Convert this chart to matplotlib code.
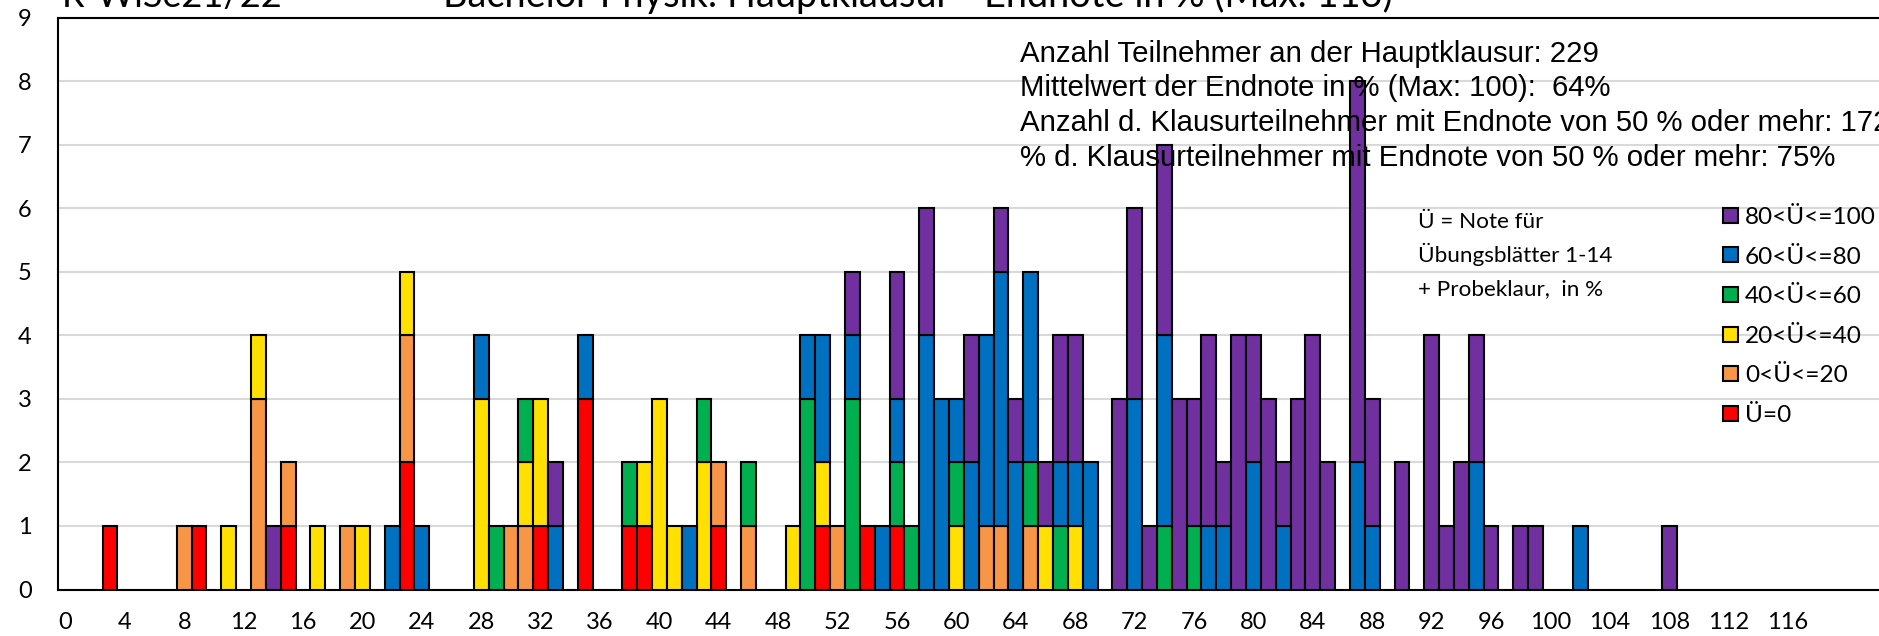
import matplotlib
matplotlib.use("Agg")
import matplotlib.pyplot as plt
import numpy as np

# Endnote in % (x-Kategorie) und Anzahl Teilnehmer je Übungsnote-Gruppe
punkte = [3, 8, 9, 11, 13, 14, 15, 17, 19, 20, 22, 23, 24, 28, 29, 30, 31, 32, 33, 35,
          38, 39, 40, 41, 42, 43, 44, 46, 49, 50, 51, 52, 53, 54, 55, 56, 57, 58, 59, 60,
          61, 62, 63, 64, 65, 66, 67, 68, 69, 71, 72, 73, 74, 75, 76, 77, 78, 79, 80, 81,
          82, 83, 84, 85, 87, 88, 90, 92, 93, 94, 95, 96, 98, 99, 102, 108]

ue_0 = [1, 0, 1, 0, 0, 0, 1, 0, 0, 0, 0, 2, 0, 0, 0, 0, 0, 1, 0, 3,
        1, 1, 0, 0, 0, 0, 1, 0, 0, 0, 1, 0, 0, 1, 0, 1, 0, 0, 0, 0,
        0, 0, 0, 0, 0, 0, 0, 0, 0, 0, 0, 0, 0, 0, 0, 0, 0, 0, 0, 0,
        0, 0, 0, 0, 0, 0, 0, 0, 0, 0, 0, 0, 0, 0, 0, 0]
ue_0_20 = [0, 1, 0, 0, 3, 0, 1, 0, 1, 0, 0, 2, 0, 0, 0, 1, 1, 0, 0, 0,
           0, 0, 0, 0, 0, 0, 1, 1, 0, 0, 0, 1, 0, 0, 0, 0, 0, 0, 0, 0,
           0, 1, 1, 0, 1, 0, 0, 0, 0, 0, 0, 0, 0, 0, 0, 0, 0, 0, 0, 0,
           0, 0, 0, 0, 0, 0, 0, 0, 0, 0, 0, 0, 0, 0, 0, 0]
ue_20_40 = [0, 0, 0, 1, 1, 0, 0, 1, 0, 1, 0, 1, 0, 3, 0, 0, 1, 2, 0, 0,
            0, 1, 3, 1, 0, 2, 0, 0, 1, 0, 1, 0, 0, 0, 0, 0, 0, 0, 0, 1,
            0, 0, 0, 0, 0, 1, 0, 1, 0, 0, 0, 0, 0, 0, 0, 0, 0, 0, 0, 0,
            0, 0, 0, 0, 0, 0, 0, 0, 0, 0, 0, 0, 0, 0, 0, 0]
ue_40_60 = [0, 0, 0, 0, 0, 0, 0, 0, 0, 0, 0, 0, 0, 0, 1, 0, 1, 0, 0, 0,
            1, 0, 0, 0, 0, 1, 0, 1, 0, 3, 0, 0, 3, 0, 0, 1, 1, 0, 0, 1,
            0, 0, 0, 0, 1, 0, 1, 0, 0, 0, 0, 0, 1, 0, 1, 0, 0, 0, 0, 0,
            0, 0, 0, 0, 0, 0, 0, 0, 0, 0, 0, 0, 0, 0, 0, 0]
ue_60_80 = [0, 0, 0, 0, 0, 0, 0, 0, 0, 0, 1, 0, 1, 1, 0, 0, 0, 0, 1, 1,
            0, 0, 0, 0, 1, 0, 0, 0, 0, 1, 2, 0, 1, 0, 1, 1, 0, 4, 3, 1,
            2, 3, 4, 2, 3, 0, 1, 1, 2, 0, 3, 0, 3, 0, 0, 1, 1, 0, 2, 0,
            1, 0, 0, 0, 2, 1, 0, 0, 0, 0, 2, 0, 0, 0, 1, 0]
ue_80_100 = [0, 0, 0, 0, 0, 1, 0, 0, 0, 0, 0, 0, 0, 0, 0, 0, 0, 0, 1, 0,
             0, 0, 0, 0, 0, 0, 0, 0, 0, 0, 0, 0, 1, 0, 0, 2, 0, 2, 0, 0,
             2, 0, 1, 1, 0, 1, 2, 2, 0, 3, 3, 1, 3, 3, 2, 3, 1, 4, 2, 3,
             1, 3, 4, 2, 6, 2, 2, 4, 1, 2, 2, 1, 1, 1, 0, 1]

gruppen = ["Ü=0", "0<Ü<=20", "20<Ü<=40", "40<Ü<=60", "60<Ü<=80", "80<Ü<=100"]
farben = ["#FF0000", "#F79646", "#FFE000", "#00B050", "#0070C0", "#7030A0"]

x_ticks = list(range(0, 117, 4))
y_ticks = list(range(0, 10))

titel_links = "R-WiSe21/22"
titel = "Bachelor Physik: Hauptklausur - Endnote in % (Max: 113)"
info = ["Anzahl Teilnehmer an der Hauptklausur: 229",
        "Mittelwert der Endnote in % (Max: 100):  64%",
        "Anzahl d. Klausurteilnehmer mit Endnote von 50 % oder mehr: 172",
        "% d. Klausurteilnehmer mit Endnote von 50 % oder mehr: 75%"]
notiz = ["Ü = Note für", "Übungsblätter 1-14", "+ Probeklaur,  in %"]

# ------------------------------------------------------------------
W, H = 1879, 636
fig = plt.figure(figsize=(W / 100, H / 100), dpi=100)
ax = fig.add_axes([58 / W, 1 - 589.5 / H, 125 * 14.85 / W, (589.5 - 17.7) / H])

x = np.array(punkte)
unten = np.zeros(len(punkte))
balken = []
for werte, farbe, name in zip([ue_0, ue_0_20, ue_20_40, ue_40_60, ue_60_80, ue_80_100], farben, gruppen):
    werte = np.array(werte, dtype=float)
    m = werte > 0
    b = ax.bar(x[m], werte[m], bottom=unten[m], width=1.0, color=farbe,
               edgecolor="black", linewidth=1.5, label=name, zorder=3)
    balken.append(b)
    unten += werte

ax.set_xlim(-0.5, 124.5)
ax.set_ylim(0, 9)
ax.set_xticks(x_ticks)
ax.set_xticklabels([str(t) for t in x_ticks], family="Lato", fontsize=17)
ax.set_yticks(y_ticks)
ax.set_yticklabels([str(t) for t in y_ticks], family="Lato", fontsize=17)
ax.tick_params(axis="x", length=0, pad=16)
ax.tick_params(axis="y", length=0, pad=19)
ax.yaxis.grid(True, color="#D9D9D9", linewidth=1.5)
ax.set_axisbelow(True)
for s in ["top", "left", "bottom", "right"]:
    ax.spines[s].set_color("black")
    ax.spines[s].set_linewidth(1.5)

# Titel (oben abgeschnitten wie im Original)
fig.text(62 / W, 1 - 7 / H, titel_links, family="Lato", fontsize=26, va="baseline", ha="left")
fig.text(443 / W, 1 - 7 / H, titel, family="Lato", fontsize=27.3, va="baseline", ha="left")

# Infotext
for i, zeile in enumerate(info):
    fig.text(1020 / W, 1 - (62 + 34.5 * i) / H, zeile, family="Liberation Sans",
             fontsize=21.2, va="baseline", ha="left")

for i, zeile in enumerate(notiz):
    fig.text(1418 / W, 1 - (228 + 33.5 * i) / H, zeile, family="Lato",
             fontsize=16.2, va="baseline", ha="left")

leg = ax.legend(handles=balken[::-1], loc="upper left", bbox_to_anchor=(1723 / W, 1 - 207 / H),
                bbox_transform=fig.transFigure, frameon=False, prop={"family": "Lato", "size": 17.6},
                handlelength=0.6, handleheight=0.57, handletextpad=0.3, labelspacing=0.76,
                borderpad=0, borderaxespad=0)

fig.savefig("out.png", dpi=100)
